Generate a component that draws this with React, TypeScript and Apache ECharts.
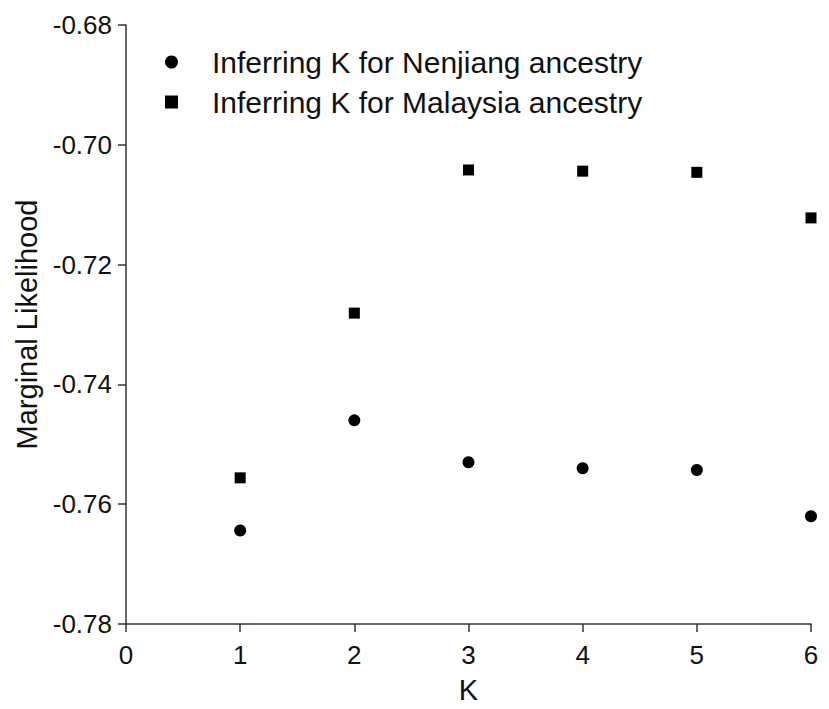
import React, { useEffect, useRef } from "react";
import * as echarts from "echarts";

const kValues = [1, 2, 3, 4, 5, 6];
const nenjiang = [-0.7644, -0.746, -0.753, -0.754, -0.7543, -0.762];
const malaysia = [-0.7556, -0.7281, -0.7042, -0.7044, -0.7046, -0.7122];
const seriesNames = ["Inferring K for Nenjiang ancestry", "Inferring K for Malaysia ancestry"];

export default function App() {
  const ref = useRef<HTMLDivElement>(null);
  useEffect(() => {
    if (!ref.current) return;
    const chart = echarts.init(ref.current, null, { renderer: "svg" });
    const font = "Liberation Sans, Arial, sans-serif";
    chart.setOption({
      animation: false,
      backgroundColor: "#ffffff",
      textStyle: { fontFamily: font },
      grid: { left: 126, right: 18, top: 25, bottom: 81, containLabel: false },
      legend: {
        orient: "vertical",
        left: 165,
        top: 47,
        padding: 0,
        itemGap: 10,
        itemWidth: 13,
        itemHeight: 13,
        textStyle: { fontSize: 30, color: "#111", fontFamily: font, padding: [0, 0, 0, 29] },
        data: [
          { name: seriesNames[0], icon: "circle", itemStyle: { color: "#000", opacity: 1 } },
          { name: seriesNames[1], icon: "rect", itemStyle: { color: "#000", opacity: 1 } },
        ],
      },
      xAxis: {
        type: "value",
        min: 0,
        max: 6,
        interval: 1,
        name: "K",
        nameLocation: "middle",
        nameGap: 51,
        nameTextStyle: { fontSize: 29, color: "#111", fontFamily: font },
        axisLine: { onZero: false, lineStyle: { color: "#333", width: 1.5 } },
        axisTick: { show: true, length: 8, lineStyle: { color: "#333", width: 1.5 } },
        axisLabel: { fontSize: 26, color: "#111", margin: 18, fontFamily: font },
        splitLine: { show: false },
      },
      yAxis: {
        type: "value",
        min: -0.78,
        max: -0.68,
        interval: 0.02,
        name: "Marginal Likelihood",
        nameLocation: "middle",
        nameGap: 84,
        nameTextStyle: { fontSize: 29, color: "#111", fontFamily: font },
        axisLine: { show: true, lineStyle: { color: "#333", width: 1.5 } },
        axisTick: { show: true, length: 8, lineStyle: { color: "#333", width: 1.5 } },
        axisLabel: {
          fontSize: 26,
          color: "#111",
          margin: 14,
          fontFamily: font,
          formatter: (v: number) => v.toFixed(2),
        },
        splitLine: { show: false },
      },
      series: [
        {
          name: seriesNames[0],
          type: "scatter",
          symbol: "circle",
          symbolSize: 12,
          itemStyle: { color: "#000", opacity: 1 },
          data: kValues.map((k, i) => [k, nenjiang[i]]),
        },
        {
          name: seriesNames[1],
          type: "scatter",
          symbol: "rect",
          symbolSize: 11,
          itemStyle: { color: "#000", opacity: 1 },
          data: kValues.map((k, i) => [k, malaysia[i]]),
        },
      ],
    });
    return () => chart.dispose();
  }, []);
  return <div ref={ref} style={{ width: 829, height: 709, position: "absolute", left: 0, top: 0 }} />;
}
